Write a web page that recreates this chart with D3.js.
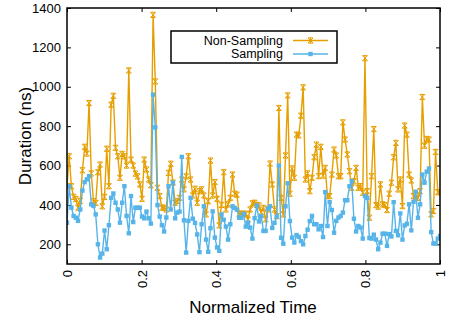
<!DOCTYPE html>
<html>
<head>
<meta charset="utf-8">
<script src="https://cdn.jsdelivr.net/npm/d3@7"></script>
<style>
    body { margin: 0; background: #fff; }
    text { font-family: 'Liberation Sans', Arial, sans-serif; }
</style>
</head>
<body>
<div id="chart"></div>
<script>
// Duration per sample (ns)
const nonSampling = [
    495, 647, 495, 441, 430, 386, 420, 576, 695, 661, 917, 560, 419, 410, 566, 605, 393, 441, 685, 495, 909, 954, 690, 647, 538, 659, 647, 600,
    1083, 630, 600, 559, 545, 504, 431, 630, 580, 529, 500, 1365, 1027, 487, 445, 386, 386, 377, 563, 609, 513, 411, 420, 436, 529, 479, 545, 647,
    529, 448, 482, 411, 470, 479, 448, 352, 419, 625, 448, 516, 431, 296, 400, 566, 377, 403, 436, 554, 457, 452, 355, 355, 355, 355, 326,
    377, 408, 411, 400, 397, 363, 385, 327, 377, 610, 504, 377, 343, 892, 436, 352, 651, 956, 457, 585, 538, 757, 753, 853, 997, 529, 560, 470,
    538, 642, 706, 546, 695, 549, 588, 445, 445, 554, 681, 651, 546, 546, 819, 732, 656, 571, 487, 520, 588, 487, 495, 462, 1145, 470, 335, 546, 785,
    399, 391, 504, 403, 399, 374, 457, 513, 642, 715, 479, 529, 394, 803, 757, 554, 524, 445, 436, 436, 470, 948, 701, 735, 732, 352, 369, 669, 465, 465
]
const sampling = [
    310, 495, 386, 344, 335, 319, 377, 473, 516, 530, 546, 403, 395, 352, 200, 133, 153, 270, 175, 297, 436, 458, 411, 377, 310, 411, 495, 344,
    256, 445, 313, 386, 386, 386, 341, 332, 366, 332, 305, 960, 794, 399, 341, 297, 265, 336, 495, 377, 513, 332, 361, 366, 644, 322, 158, 319,
    436, 330, 309, 250, 160, 302, 393, 224, 162, 282, 367, 234, 184, 167, 352, 325, 290, 224, 302, 393, 385, 376, 335, 335, 355, 290, 310,
    285, 229, 333, 397, 316, 343, 268, 268, 381, 393, 283, 309, 340, 600, 233, 203, 393, 510, 318, 234, 209, 247, 238, 216, 200, 242, 274, 318,
    344, 302, 302, 276, 293, 237, 465, 293, 414, 374, 259, 319, 336, 344, 361, 424, 424, 495, 521, 330, 265, 293, 285, 229, 445, 436, 232, 229, 249,
    224, 175, 209, 254, 254, 192, 252, 240, 414, 268, 246, 357, 224, 296, 304, 403, 271, 416, 467, 335, 403, 554, 513, 569, 585, 262, 204, 204, 229, 242
]
const seriesNames = ['Non-Sampling', 'Sampling']
const seriesColors = ['#E69F00', '#56B4E9']
const xTicks = [0, 0.2, 0.4, 0.6, 0.8, 1]
const yTicks = [200, 400, 600, 800, 1000, 1200, 1400]

let width = 449
let height = 320
let margin = { top: 8, right: 9, bottom: 56, left: 67 },
    plotWidth = width - margin.left - margin.right,
    plotHeight = height - margin.top - margin.bottom

let svg = d3
    .select('#chart')
    .append('svg')
    .attr('width', width)
    .attr('height', height)
    .append('g')
    .attr('transform', 'translate(' + margin.left + ',' + margin.top + ')')

let n = nonSampling.length
let x = d3.scaleLinear().domain([0, 1]).range([0, plotWidth])
let y = d3.scaleLinear().domain([100, 1400]).range([plotHeight, 0])
let t = i => i / (n - 1)

// axes, ticks inward and mirrored like gnuplot
let tickLen = 4
svg.append('g')
    .attr('transform', 'translate(0,' + plotHeight + ')')
    .call(d3.axisBottom(x).tickValues(xTicks).tickSizeInner(-tickLen).tickSizeOuter(0).tickFormat(d3.format('')))
    .call(g => g.select('.domain').remove())
    .selectAll('text')
    .attr('transform', 'rotate(-90)')
    .attr('x', -6)
    .attr('y', 0)
    .attr('dy', '0.35em')
    .style('text-anchor', 'end')
    .attr('font-size', '13px')
    .attr('fill', '#000')
svg.append('g')
    .call(d3.axisTop(x).tickValues(xTicks).tickSizeInner(-tickLen).tickSizeOuter(0).tickFormat(''))
    .call(g => g.select('.domain').remove())
svg.append('g')
    .call(d3.axisLeft(y).tickValues(yTicks).tickSizeInner(-tickLen).tickSizeOuter(0).tickPadding(6).tickFormat(d3.format('d')))
    .call(g => g.select('.domain').remove())
    .selectAll('text')
    .attr('font-size', '13px')
    .attr('fill', '#000')
svg.append('g')
    .attr('transform', 'translate(' + plotWidth + ',0)')
    .call(d3.axisRight(y).tickValues(yTicks).tickSizeInner(-tickLen).tickSizeOuter(0).tickFormat(''))
    .call(g => g.select('.domain').remove())
svg.selectAll('.tick line').attr('stroke', '#000').attr('stroke-width', 1)

// axis titles
svg.append('text')
    .attr('transform', 'rotate(-90)')
    .attr('x', -plotHeight / 2)
    .attr('y', -36)
    .style('text-anchor', 'middle')
    .attr('font-size', '17px')
    .text('Duration (ns)')
svg.append('text')
    .attr('x', (189 + 317) / 2 - margin.left)
    .attr('y', plotHeight + 49)
    .style('text-anchor', 'middle')
    .attr('font-size', '17px')
    .text('Normalized Time')

let line = d3
    .line()
    .x((d, i) => x(t(i)))
    .y(d => y(d))

let star = 'M-2.5,-2.5L2.5,2.5M-2.5,2.5L2.5,-2.5M0,-3L0,3M-2.5,-2.6L2.5,-2.6M-2.5,2.6L2.5,2.6'

let clip = svg.append('clipPath').attr('id', 'clip')
clip.append('rect').attr('width', plotWidth).attr('height', plotHeight)
let plot = svg.append('g').attr('clip-path', 'url(#clip)')

// Non-Sampling
plot.append('path')
    .datum(nonSampling)
    .attr('d', line)
    .attr('fill', 'none')
    .attr('stroke', seriesColors[0])
    .attr('stroke-width', 1.4)
    .attr('stroke-linejoin', 'round')
plot.selectAll('.ns')
    .data(nonSampling)
    .enter()
    .append('path')
    .attr('class', 'ns')
    .attr('d', star)
    .attr('transform', (d, i) => 'translate(' + x(t(i)) + ',' + y(d) + ')')
    .attr('stroke', seriesColors[0])
    .attr('stroke-width', 1)
    .attr('fill', 'none')

// Sampling
plot.append('path')
    .datum(sampling)
    .attr('d', line)
    .attr('fill', 'none')
    .attr('stroke', seriesColors[1])
    .attr('stroke-width', 1.4)
    .attr('stroke-linejoin', 'round')
plot.selectAll('.s')
    .data(sampling)
    .enter()
    .append('rect')
    .attr('class', 's')
    .attr('x', (d, i) => x(t(i)) - 2.2)
    .attr('y', d => y(d) - 2.2)
    .attr('width', 4.4)
    .attr('height', 4.4)
    .attr('fill', seriesColors[1])

// frame
svg.append('rect')
    .attr('width', plotWidth)
    .attr('height', plotHeight)
    .attr('fill', 'none')
    .attr('stroke', '#000')
    .attr('stroke-width', 1.5)

// legend
let legend = svg.append('g').attr('transform', 'translate(' + (171 - margin.left) + ',' + (31 - margin.top) + ')')
legend.append('rect')
    .attr('width', 166)
    .attr('height', 32)
    .attr('fill', '#fff')
    .attr('stroke', '#000')
    .attr('stroke-width', 1.5)
seriesNames.forEach(function (name, k) {
    let row = legend.append('g').attr('transform', 'translate(0,' + (9.5 + k * 13.5) + ')')
    row.append('text')
        .attr('x', 112)
        .attr('dy', '0.35em')
        .style('text-anchor', 'end')
        .attr('font-size', '12.5px')
        .text(name)
    row.append('line')
        .attr('x1', 122)
        .attr('x2', 157)
        .attr('stroke', seriesColors[k])
        .attr('stroke-width', 1.4)
    if (k === 0) {
        row.append('path')
            .attr('d', star)
            .attr('transform', 'translate(139.5,0)')
            .attr('stroke', seriesColors[k])
            .attr('fill', 'none')
    } else {
        row.append('rect')
            .attr('x', 137.3)
            .attr('y', -2.2)
            .attr('width', 4.4)
            .attr('height', 4.4)
            .attr('fill', seriesColors[k])
    }
})
</script>
</body>
</html>
